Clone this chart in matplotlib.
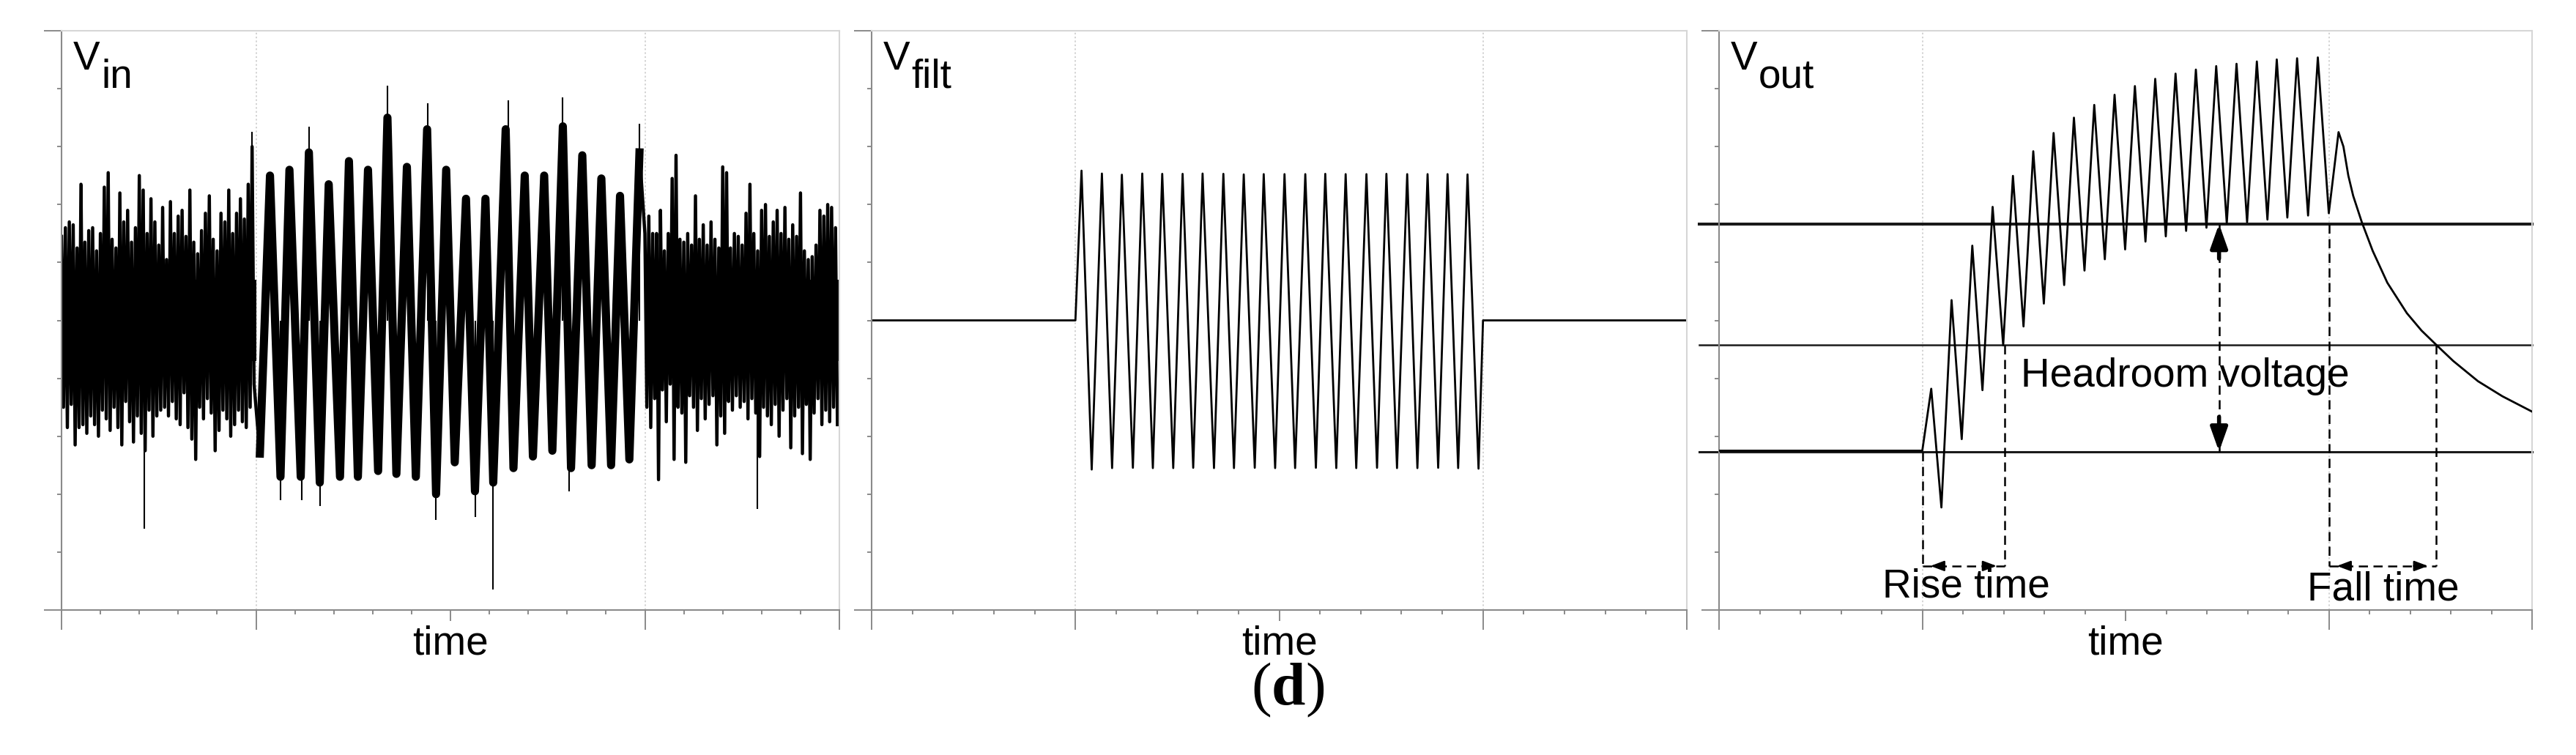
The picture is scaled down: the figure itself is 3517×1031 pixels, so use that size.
import matplotlib
matplotlib.use("Agg")
import matplotlib.pyplot as plt
from matplotlib.transforms import offset_copy
import numpy as np

plt.rcParams["font.family"] = ["Liberation Sans", "DejaVu Sans"]
plt.rcParams["mathtext.fontset"] = "custom"
plt.rcParams["mathtext.rm"] = "Liberation Serif"
plt.rcParams["mathtext.bf"] = "Liberation Serif:bold"

W, H, DPI = 3517, 1031, 100
FS = 39.5

# ---- data (time in 20 divisions, burst between t=5 and t=15) ----
# Vin: noise extremes before / after the burst, one pair every 0.1
VIN_PRE_HI = [0.29, 0.32, 0.34, 0.33, 0.25, 0.47, 0.27, 0.31, 0.32, 0.24,
              0.30, 0.46, 0.51, 0.28, 0.25, 0.44, 0.34, 0.38, 0.27, 0.32,
              0.50, 0.45, 0.30, 0.42, 0.34, 0.26, 0.39, 0.21, 0.41, 0.30,
              0.36, 0.38, 0.29, 0.45, 0.27, 0.23, 0.31, 0.37, 0.43, 0.28,
              0.24, 0.37, 0.34, 0.45, 0.30, 0.37, 0.42, 0.35, 0.47, 0.60]
VIN_PRE_LO = [-0.30, -0.37, -0.29, -0.43, -0.37, -0.36, -0.39, -0.33, -0.36, -0.40,
              -0.31, -0.34, -0.38, -0.30, -0.37, -0.43, -0.28, -0.35, -0.42, -0.33,
              -0.39, -0.45, -0.31, -0.40, -0.33, -0.31, -0.30, -0.33, -0.28, -0.34,
              -0.36, -0.25, -0.37, -0.41, -0.48, -0.30, -0.34, -0.27, -0.32, -0.45,
              -0.38, -0.31, -0.34, -0.40, -0.36, -0.31, -0.35, -0.37, -0.30, -0.22]
VIN_POST_HI = [0.30, 0.36, 0.30, 0.30, 0.38, 0.24, 0.30, 0.49, 0.57, 0.28,
               0.27, 0.30, 0.26, 0.43, 0.28, 0.33, 0.26, 0.34, 0.28, 0.25,
               0.53, 0.51, 0.25, 0.30, 0.29, 0.26, 0.37, 0.47, 0.30, 0.24,
               0.38, 0.40, 0.29, 0.34, 0.38, 0.30, 0.39, 0.28, 0.33, 0.29,
               0.44, 0.24, 0.21, 0.22, 0.26, 0.38, 0.36, 0.40, 0.39, 0.32]
VIN_POST_LO = [-0.30, -0.37, -0.27, -0.55, -0.24, -0.35, -0.22, -0.48, -0.30, -0.32,
               -0.49, -0.26, -0.30, -0.38, -0.27, -0.34, -0.29, -0.26, -0.43, -0.33,
               -0.39, -0.28, -0.31, -0.26, -0.30, -0.28, -0.34, -0.27, -0.32, -0.47,
               -0.30, -0.33, -0.36, -0.29, -0.40, -0.31, -0.27, -0.44, -0.33, -0.30,
               -0.46, -0.29, -0.48, -0.32, -0.27, -0.36, -0.31, -0.35, -0.30, -0.36]
VIN_CORE = [0.14, -0.14]
VIN_TROUGH_T = [5.10, 5.63, 6.15, 6.64, 7.16, 7.62, 8.14, 8.61, 9.11, 9.63,
                10.11, 10.63, 11.10, 11.62, 12.12, 12.62, 13.10, 13.63, 14.13, 14.60]
VIN_TROUGH_V = [-0.46, -0.54, -0.54, -0.56, -0.54, -0.54, -0.52, -0.53, -0.54, -0.60,
                -0.49, -0.59, -0.56, -0.51, -0.47, -0.45, -0.51, -0.50, -0.50, -0.48]
VIN_PEAK_T = [5.36, 5.86, 6.36, 6.87, 7.39, 7.88, 8.38, 8.88, 9.40, 9.89,
              10.40, 10.90, 11.42, 11.91, 12.41, 12.89, 13.39, 13.88, 14.36, 14.86]
VIN_PEAK_V = [0.50, 0.52, 0.58, 0.47, 0.55, 0.52, 0.70, 0.53, 0.66, 0.52,
              0.42, 0.42, 0.66, 0.50, 0.50, 0.67, 0.57, 0.49, 0.43, 0.58]
# thin noise spikes standing out of the trace
VIN_SPIKE_T = [0.53, 2.12, 4.89, 5.64, 6.18, 6.36, 6.65, 8.38, 9.42, 9.63,
               10.64, 11.09, 11.48, 12.89, 13.06, 14.86, 15.80, 17.90]
VIN_SPIKE_V = [0.47, -0.72, 0.65, -0.62, -0.62, 0.67, -0.64, 0.81, 0.75, -0.69,
               -0.68, -0.93, 0.76, 0.77, -0.59, 0.68, 0.57, -0.65]

# Vfilt: clean tone burst
VFILT_PEAK_T = [5.15, 5.65, 6.14, 6.64, 7.13, 7.63, 8.12, 8.63, 9.13, 9.62,
                10.13, 10.64, 11.13, 11.63, 12.14, 12.63, 13.14, 13.64, 14.13, 14.62]
VFILT_PEAK_V = [0.517, 0.507, 0.503, 0.507, 0.506, 0.506, 0.507, 0.506, 0.504, 0.505,
                0.505, 0.505, 0.506, 0.505, 0.505, 0.506, 0.505, 0.505, 0.505, 0.504]
VFILT_TROUGH_T = [5.40, 5.90, 6.41, 6.90, 7.40, 7.89, 8.40, 8.89, 9.40, 9.90,
                  10.39, 10.90, 11.40, 11.89, 12.40, 12.89, 13.39, 13.90, 14.39, 14.89]
VFILT_TROUGH_V = [-0.515, -0.510, -0.509, -0.510, -0.510, -0.509, -0.510, -0.510, -0.509, -0.510,
                  -0.510, -0.509, -0.510, -0.510, -0.509, -0.510, -0.510, -0.509, -0.510, -0.512]

# Vout: rectified / smoothed output
VOUT_T = [0.0, 5.0, 5.22, 5.47, 5.72, 5.97, 6.23, 6.48, 6.73, 6.99,
          7.23, 7.49, 7.73, 7.99, 8.23, 8.49, 8.73, 8.99, 9.23, 9.49,
          9.73, 9.99, 10.23, 10.49, 10.73, 10.99, 11.23, 11.49, 11.73, 11.99,
          12.23, 12.49, 12.73, 12.99, 13.23, 13.49, 13.72, 13.98, 14.22, 14.49,
          14.73, 15.0, 15.24, 15.36, 15.48, 15.60, 15.81, 16.08, 16.44, 16.92,
          17.28, 17.64, 18.06, 18.67, 19.27, 20.0]
VOUT_V = [-0.450, -0.450, -0.236, -0.646, 0.070, -0.410, 0.258, -0.241, 0.392, -0.086,
          0.499, -0.021, 0.584, 0.058, 0.647, 0.122, 0.700, 0.172, 0.744, 0.211,
          0.779, 0.245, 0.809, 0.272, 0.834, 0.290, 0.852, 0.309, 0.866, 0.320,
          0.878, 0.335, 0.886, 0.339, 0.894, 0.348, 0.901, 0.355, 0.905, 0.362,
          0.908, 0.370, 0.650, 0.600, 0.500, 0.430, 0.340, 0.240, 0.130, 0.025,
          -0.035, -0.084, -0.140, -0.210, -0.262, -0.315]
VOUT_LEVELS = [0.333, -0.085, -0.453]
RISE_T = [5.0, 7.03]
FALL_T = [15.0, 17.64]
HEADROOM_T = 12.3
SPAN_Y = -0.848

PANELS_PX = [(84, 1146), (1190, 2303), (2347, 3457)]
TOP_PX, BOTTOM_PX = 42, 833
LABELS = [("V", "in"), ("V", "filt"), ("V", "out")]

fig = plt.figure(figsize=(W / DPI, H / DPI), dpi=DPI)
axes = []
for x0, x1 in PANELS_PX:
    ax = fig.add_axes([x0 / W, 1 - BOTTOM_PX / H, (x1 - x0) / W, (BOTTOM_PX - TOP_PX) / H])
    axes.append(ax)

axis_grey = "#8a8a8a"
light_grey = "#d6d6d6"


def style_axes(ax, label):
    ax.set_xlim(0, 20)
    ax.set_ylim(-1, 1)
    ax.set_xticks([0, 5, 15, 20])
    ax.set_xticks([i for i in range(21) if i not in (0, 5, 10, 15, 20)], minor=True)
    ax.set_yticks([-1, 1])
    ax.set_yticks(np.arange(-0.8, 0.81, 0.2), minor=True)
    ax.tick_params(axis="x", which="major", length=27 * 0.72, width=1.4, color=axis_grey,
                   direction="out", labelbottom=False)
    ax.tick_params(axis="y", which="major", length=24 * 0.72, width=1.4, color=axis_grey,
                   direction="out", labelleft=False)
    ax.tick_params(which="minor", length=6 * 0.72, width=1.4, color=axis_grey, direction="out")
    for side in ("left", "bottom"):
        ax.spines[side].set_color(axis_grey)
        ax.spines[side].set_linewidth(1.5)
    for side in ("top", "right"):
        ax.spines[side].set_color(light_grey)
        ax.spines[side].set_linewidth(1.5)
    # middle tick is a bit shorter
    ax.plot([0.5, 0.5], [0, -14 / (BOTTOM_PX - TOP_PX)], transform=ax.transAxes,
            clip_on=False, color=axis_grey, lw=1.4)
    for t in (5, 15):
        ax.axvline(t, color="#c8c8c8", lw=1.1, ls=(0, (1.5, 2)), zorder=0)

    ax.text(0.5, 0, "time", transform=offset_copy(ax.transAxes, y=-60, units="dots"),
            ha="center", va="baseline", fontsize=FS)
    ax.text(0, 1, label[0], transform=offset_copy(ax.transAxes, x=16, y=-53, units="dots"),
            ha="left", va="baseline", fontsize=FS)
    ax.text(0, 1, label[1], transform=offset_copy(ax.transAxes, x=54, y=-78, units="dots"),
            ha="left", va="baseline", fontsize=FS)


for ax, lab in zip(axes, LABELS):
    style_axes(ax, lab)


def zigzag(t_a, v_a, t_b, v_b):
    t = np.concatenate([t_a, t_b])
    v = np.concatenate([v_a, v_b])
    order = np.argsort(t)
    return t[order], v[order]


# ---- Vin ----
ax = axes[0]
steps = np.arange(len(VIN_PRE_HI)) * 0.1
pre_t, pre_v = zigzag(steps, VIN_PRE_HI, steps + 0.05, VIN_PRE_LO)
post_t, post_v = zigzag(15 + steps, VIN_POST_HI, 15.05 + steps, VIN_POST_LO)
burst_t, burst_v = zigzag(VIN_TROUGH_T, VIN_TROUGH_V, VIN_PEAK_T, VIN_PEAK_V)
for span in ([0, 5], [15, 20]):
    ax.fill_between(span, VIN_CORE[0], VIN_CORE[1], color="k", lw=0)
ax.plot(np.concatenate([pre_t, burst_t, post_t]),
        np.concatenate([pre_v, burst_v, post_v]), color="k", lw=3.2)
ax.plot(burst_t, burst_v, color="k", lw=8.0)
ax.vlines(VIN_SPIKE_T, 0, VIN_SPIKE_V, color="k", lw=1.5)

# ---- Vfilt ----
ax = axes[1]
ft, fv = zigzag(VFILT_PEAK_T, VFILT_PEAK_V, VFILT_TROUGH_T, VFILT_TROUGH_V)
ax.plot(np.concatenate([[0, 5], ft, [15, 20]]), np.concatenate([[0, 0], fv, [0, 0]]),
        color="k", lw=2.0)

# ---- Vout ----
ax = axes[2]
for lvl, lw in zip(VOUT_LEVELS, [2.9, 1.8, 2.2]):
    ax.plot([-0.48, 20], [lvl, lvl], color="#1a1a1a", lw=lw, clip_on=False, zorder=2)
ax.plot(VOUT_T, VOUT_V, color="k", lw=2.0, zorder=3)

dash = (0, (5, 3))
# rise / fall time markers
ax.plot([RISE_T[0]] * 2, [VOUT_LEVELS[2], SPAN_Y], color="k", lw=1.8, ls=dash)
ax.plot([RISE_T[1]] * 2, [VOUT_LEVELS[1], SPAN_Y], color="k", lw=1.8, ls=dash)
ax.plot([FALL_T[0]] * 2, [VOUT_LEVELS[0], SPAN_Y], color="k", lw=1.8, ls=dash)
ax.plot([FALL_T[1]] * 2, [VOUT_LEVELS[1], SPAN_Y], color="k", lw=1.8, ls=dash)
for a, b in (RISE_T, FALL_T):
    ax.plot([a, b], [SPAN_Y, SPAN_Y], color="k", lw=1.8, ls=dash)
    small = dict(arrowstyle="-|>,head_length=0.8,head_width=0.3", color="k", lw=1.8,
                 shrinkA=0, shrinkB=0, mutation_scale=14)
    ax.annotate("", xy=(a + 0.2, SPAN_Y), xytext=(a + 0.55, SPAN_Y), arrowprops=small)
    ax.annotate("", xy=(b - 0.2, SPAN_Y), xytext=(b - 0.55, SPAN_Y), arrowprops=small)

# headroom arrow
ax.plot([HEADROOM_T] * 2, [VOUT_LEVELS[0], VOUT_LEVELS[2]], color="k", lw=1.8, ls=dash)
big = dict(arrowstyle="-|>,head_length=0.9,head_width=0.32", color="k", lw=4.0,
           shrinkA=0, shrinkB=0, mutation_scale=22)
ax.annotate("", xy=(HEADROOM_T, VOUT_LEVELS[0]), xytext=(HEADROOM_T, VOUT_LEVELS[0] - 0.12),
            arrowprops=big)
ax.annotate("", xy=(HEADROOM_T, VOUT_LEVELS[2]), xytext=(HEADROOM_T, VOUT_LEVELS[2] + 0.12),
            arrowprops=big)

ax.text(7.43, -0.23, "Headroom voltage", fontsize=FS, ha="left", va="baseline")
ax.text(6.08, -0.955, "Rise time", fontsize=FS, ha="center", va="baseline")
ax.text(16.33, -0.965, "Fall time", fontsize=FS, ha="center", va="baseline")

fig.text(0.5, 1 - 942 / H, r"($\mathbf{d}$)", fontsize=60, ha="center", va="center",
         family="Liberation Serif")

fig.savefig("out.png", dpi=DPI)
